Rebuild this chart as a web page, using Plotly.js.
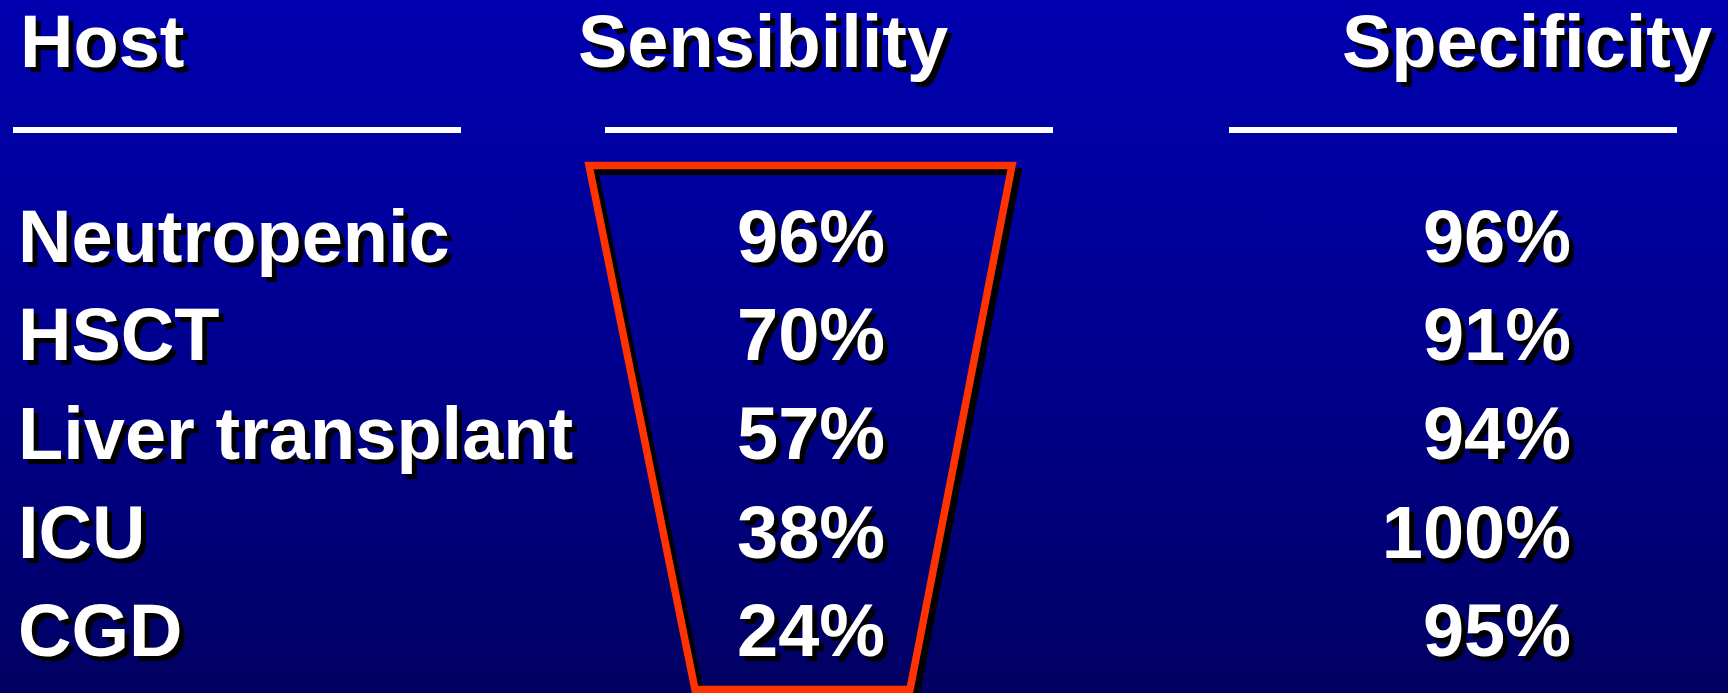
<!DOCTYPE html>
<html>
<head>
<meta charset="utf-8">
<script src="https://cdn.plot.ly/plotly-3.0.1.min.js"></script>
<style>
  html, body { margin: 0; padding: 0; }
  #chart {
    width: 1728px;
    height: 693px;
    background: linear-gradient(to bottom, #0000b0 0%, #000090 50%, #000062 100%);
  }
</style>
</head>
<body>
<div id="chart"></div>
<script>
// Galactomannan assay performance by host group
const hosts = ['Neutropenic', 'HSCT', 'Liver transplant', 'ICU', 'CGD'];
const sensibility = [96, 70, 57, 38, 24];
const specificity = [96, 91, 94, 100, 95];
const headers = ['Host', 'Sensibility', 'Specificity'];

const W = 1728, H = 693;
const FONT = 'Liberation Sans, Arial, Helvetica, sans-serif';
const SHADOW = '5px 5px 0px #000000';
const textFont = { family: FONT, size: 74, weight: 'bold', color: '#ffffff', shadow: SHADOW };

// column anchors (pixels on the x axis)
const hostX = 18, sensX = 737, specX = 1571;

// paper y from a pixel offset measured from the top
const py = p => 1 - p / H;

const traces = [
  {
    type: 'scatter', mode: 'text',
    x: hosts.map(() => hostX), y: hosts,
    text: hosts, textposition: 'middle right',
    textfont: textFont, hoverinfo: 'skip', showlegend: false
  },
  {
    type: 'scatter', mode: 'text',
    x: hosts.map(() => sensX), y: hosts,
    text: sensibility.map(v => v + '%'), textposition: 'middle right',
    textfont: textFont, hoverinfo: 'skip', showlegend: false
  },
  {
    type: 'scatter', mode: 'text',
    x: hosts.map(() => specX), y: hosts,
    text: specificity.map(v => v + '%'), textposition: 'middle left',
    textfont: textFont, hoverinfo: 'skip', showlegend: false
  }
];

// header labels
const headerPos = [
  { x: 18, anchor: 'left' },
  { x: 576, anchor: 'left' },
  { x: 1714, anchor: 'right' }
];
const annotations = headers.map((h, i) => ({
  text: h, xref: 'x', yref: 'paper',
  x: headerPos[i].x, y: py(42), xanchor: headerPos[i].anchor, yanchor: 'middle',
  showarrow: false, font: textFont
}));

// rules under the headers
const rules = [[13, 461], [605, 1053], [1229, 1677]].map(([a, b]) => ({
  type: 'line', xref: 'x', yref: 'paper',
  x0: a, x1: b, y0: py(130), y1: py(130),
  line: { color: '#ffffff', width: 6 }, layer: 'above'
}));

// funnel outline around the sensibility column
function funnel(dx, dy) {
  const pts = [[589, 165.5], [1012, 165.5], [910, 689.5], [695, 689.5]]
    .map(([x, y]) => [x + dx, py(y + dy)]);
  return 'M' + pts.map(p => p[0] + ',' + p[1]).join(' L') + ' Z';
}
const funnelShapes = [
  { type: 'path', xref: 'x', yref: 'paper', path: funnel(6, 6),
    line: { color: '#000000', width: 7 }, layer: 'below' },
  { type: 'path', xref: 'x', yref: 'paper', path: funnel(0, 0),
    line: { color: '#ff3300', width: 7.5 }, layer: 'below' }
];

const rowStep = 98.7, firstRow = 243;
const yTop = -firstRow / rowStep;
const yBottom = yTop + H / rowStep;

const layout = {
  width: W, height: H,
  margin: { l: 0, r: 0, t: 0, b: 0, pad: 0 },
  paper_bgcolor: 'rgba(0,0,0,0)',
  plot_bgcolor: 'rgba(0,0,0,0)',
  xaxis: { range: [0, W], visible: false, fixedrange: true },
  yaxis: { type: 'category', categoryarray: hosts, range: [yBottom, yTop],
           visible: false, fixedrange: true },
  annotations: annotations,
  shapes: funnelShapes.concat(rules),
  showlegend: false
};

Plotly.newPlot('chart', traces, layout, { staticPlot: true, displayModeBar: false });
</script>
</body>
</html>
